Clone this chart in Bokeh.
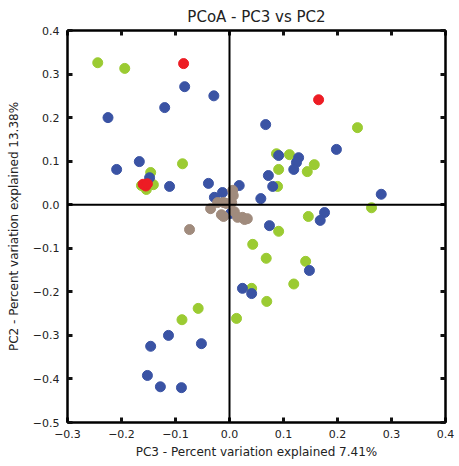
from bokeh.plotting import figure
from bokeh.models import Range1d, LinearAxis, FixedTicker, Span, CustomJSTickFormatter, Title
from bokeh.embed import file_html
from bokeh.resources import INLINE

# ---- data (PC3, PC2) per group ----
green_x = [-0.244, -0.194, -0.087, -0.146, -0.163, -0.141, -0.154, 0.087, 0.111, 0.091, 0.157, 0.144,
           0.237, 0.089, 0.263, 0.146, 0.091, 0.043, 0.068, 0.141, 0.119, 0.041, 0.069, 0.013, -0.058, -0.088]
green_y = [0.326, 0.313, 0.094, 0.074, 0.044, 0.046, 0.035, 0.117, 0.115, 0.081, 0.092, 0.076,
           0.177, 0.042, -0.007, -0.027, -0.061, -0.091, -0.123, -0.130, -0.182, -0.192, -0.222, -0.261, -0.238, -0.264]

blue_x = [-0.083, -0.029, -0.120, -0.225, -0.167, -0.209, -0.148, -0.111, -0.039, -0.013, -0.028, 0.018,
          0.002, 0.058, 0.067, 0.198, 0.091, 0.128, 0.124, 0.119, 0.072, 0.080, 0.281, 0.176, 0.168, 0.074,
          0.148, 0.024, 0.041, -0.113, -0.146, -0.052, -0.152, -0.128, -0.089]
blue_y = [0.271, 0.250, 0.223, 0.200, 0.099, 0.081, 0.062, 0.042, 0.049, 0.028, 0.017, 0.044,
          -0.020, 0.014, 0.184, 0.127, 0.113, 0.108, 0.097, 0.081, 0.067, 0.042, 0.024, -0.018, -0.036, -0.048,
          -0.151, -0.192, -0.204, -0.300, -0.325, -0.319, -0.392, -0.418, -0.420]

brown_x = [0.006, 0.007, 0.004, -0.022, -0.011, -0.006, -0.035, -0.015, -0.011, 0.009, 0.015, 0.024, 0.028, 0.033, -0.074]
brown_y = [0.033, 0.021, 0.005, 0.005, 0.005, 0.003, -0.009, -0.023, -0.027, -0.016, -0.029, -0.029, -0.034, -0.032, -0.057]

red_x = [-0.085, 0.165, -0.160, -0.155, -0.152]
red_y = [0.324, 0.241, 0.047, 0.043, 0.048]

x_ticks = [-0.3, -0.2, -0.1, 0.0, 0.1, 0.2, 0.3, 0.4]
y_ticks = [-0.5, -0.4, -0.3, -0.2, -0.1, 0.0, 0.1, 0.2, 0.3, 0.4]

title_text = "PCoA - PC3 vs PC2"
x_label = "PC3 - Percent variation explained 7.41%"
y_label = "PC2 - Percent variation explained 13.38%"

FONT = "DejaVu Sans"

p = figure(width=459, height=466, output_backend="svg", toolbar_location=None,
           x_range=Range1d(-0.3, 0.4), y_range=Range1d(-0.5, 0.4),
           x_axis_location=None, y_axis_location=None,
           min_border_left=67, min_border_right=14, min_border_top=30, min_border_bottom=44)
p.grid.visible = False
p.outline_line_color = "black"
p.outline_line_width = 2
p.background_fill_color = "white"
p.border_fill_color = "white"

p.title = Title(text=title_text, align="center", text_font=FONT, text_font_size="15px",
                text_font_style="normal", text_color="#222222", offset=0, standoff=9)

fmt = CustomJSTickFormatter(code="""
    var s = Math.abs(tick) < 1e-9 ? '0.0' : tick.toFixed(1);
    return s.replace('-', '\u2212');
""")

def style_axis(ax, ticks, show_labels):
    ax.ticker = FixedTicker(ticks=ticks)
    ax.formatter = fmt
    ax.axis_line_color = "black"
    ax.axis_line_width = 2
    ax.major_tick_in = 5
    ax.major_tick_out = 0
    ax.major_tick_line_width = 3
    ax.major_tick_line_color = "#111111"
    ax.minor_tick_line_color = None
    ax.major_label_text_font = FONT
    if show_labels:
        ax.major_label_text_font_size = "11px"
        ax.major_label_text_color = "#222222"
    else:
        ax.major_label_text_font_size = "0px"
        ax.major_label_text_color = None
    ax.axis_label_text_font = FONT
    ax.axis_label_text_font_size = "12px"
    ax.axis_label_text_font_style = "normal"
    ax.axis_label_text_color = "#222222"

xb = LinearAxis(axis_label=x_label)
style_axis(xb, x_ticks, True)
xb.major_label_standoff = 7
xb.axis_label_standoff = 4
p.add_layout(xb, "below")

yl = LinearAxis(axis_label=y_label)
style_axis(yl, y_ticks, True)
yl.major_label_standoff = 8
yl.axis_label_standoff = 9
p.add_layout(yl, "left")

xt = LinearAxis()
style_axis(xt, x_ticks, False)
p.add_layout(xt, "above")

yr = LinearAxis()
style_axis(yr, y_ticks, False)
p.add_layout(yr, "right")

p.add_layout(Span(location=0, dimension="height", line_color="black", line_width=2))
p.add_layout(Span(location=0, dimension="width", line_color="black", line_width=2))

S = 10
p.scatter(green_x, green_y, size=S, fill_color="#9bcb32", line_color="#9bcb32")
p.scatter(blue_x, blue_y, size=S, fill_color="#3a53a4", line_color="#3a53a4")
p.scatter(brown_x, brown_y, size=S, fill_color="#a08b7d", line_color="#a08b7d")
p.scatter(red_x, red_y, size=S, fill_color="#ed1c24", line_color="#ed1c24")

open("out.html", "w").write(file_html(p, INLINE))
